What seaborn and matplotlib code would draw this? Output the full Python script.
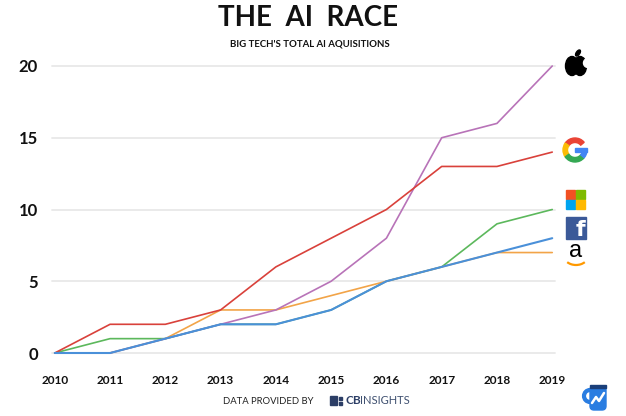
import numpy as np
import pandas as pd
import matplotlib
matplotlib.use("Agg")
import matplotlib.pyplot as plt
import matplotlib.patches as mpatches
import seaborn as sns

# ── Data ──────────────────────────────────────────────────────────────────────
years     = [2010, 2011, 2012, 2013, 2014, 2015, 2016, 2017, 2018, 2019]
apple     = [0, 0, 1, 2, 3, 5, 8, 15, 16, 20]
google    = [0, 2, 2, 3, 6, 8, 10, 13, 13, 14]
microsoft = [0, 1, 1, 2, 2, 3, 5, 6, 9, 10]
facebook  = [0, 0, 1, 2, 2, 3, 5, 6, 7, 8]
amazon    = [0, 0, 1, 3, 3, 4, 5, 6, 7, 7]
y_ticks   = [0, 5, 10, 15, 20]

colors = {
    "Microsoft": "#5cb85c",
    "Amazon":    "#f2a448",
    "Apple":     "#b873b8",
    "Google":    "#d9413b",
    "Facebook":  "#4a90d9",
}
# later entries are drawn on top
draw_order = ["Microsoft", "Amazon", "Apple", "Google", "Facebook"]
widths = {"Facebook": 1.5}

series = {"Apple": apple, "Google": google, "Microsoft": microsoft,
          "Facebook": facebook, "Amazon": amazon}
df = pd.concat(
    [pd.DataFrame({"year": years, "count": vals, "company": name})
     for name, vals in series.items()],
    ignore_index=True,
)

# ── Figure ────────────────────────────────────────────────────────────────────
sns.set_theme(style="white")
plt.rcParams["font.family"] = ["Lato", "DejaVu Sans"]

W, H = 626, 416
fig = plt.figure(figsize=(W / 100, H / 100), dpi=100)
fig.patch.set_facecolor("white")

ax = fig.add_axes([52 / W, 1 - 353 / H, (555 - 52) / W, (353 - 66) / H])
ax.set_facecolor("none")
for z, name in enumerate(draw_order):
    sns.lineplot(data=df[df["company"] == name], x="year", y="count",
                 color=colors[name], linewidth=widths.get(name, 1.2), ax=ax)
    ln = ax.get_lines()[-1]
    ln.set_zorder(10 + z)
    ln.set_clip_on(False)
    ln.set_solid_joinstyle("round")

ax.set_xlim(2009.95, 2019.05)
ax.set_ylim(0, 20)
ax.set_yticks(y_ticks)
ax.set_xticks(years)
ax.set_xticklabels([str(y) for y in years], fontsize=8.5, fontweight="bold")
ax.set_yticklabels([str(v) for v in y_ticks], fontsize=12, fontweight="bold")
ax.tick_params(axis="y", length=0, pad=10, colors="#111111")
ax.tick_params(axis="x", length=0, pad=16, colors="#111111")
ax.grid(axis="y", color="#e8e8e8", linewidth=1.3)
for line in ax.get_ygridlines():
    line.set_clip_on(False)
    line.set_zorder(1)
ax.set_axisbelow(True)
ax.set_xlabel("")
ax.set_ylabel("")
sns.despine(ax=ax, left=True, bottom=True)

# ── Titles / footer ───────────────────────────────────────────────────────────
fig.text(308 / W, 1 - 18 / H, "THE  AI  RACE", ha="center", va="center",
         fontsize=20, fontweight="bold", color="#111111")
fig.text(310 / W, 1 - 44 / H, "BIG TECH'S TOTAL AI AQUISITIONS", ha="center",
         va="center", fontsize=6.9, fontweight="bold", color="#111111")
fig.text(268 / W, 1 - 401 / H, "DATA PROVIDED BY", ha="center", va="center",
         fontsize=6.8, color="#222222")

# ── Logo overlay in pixel coordinates ─────────────────────────────────────────
ov = fig.add_axes([0, 0, 1, 1])
ov.set_xlim(0, W)
ov.set_ylim(0, H)
ov.axis("off")
ov.set_facecolor("none")


def Y(y):
    return H - y


# Apple
ov.add_patch(mpatches.Ellipse((572, Y(66)), 13, 19, color="black"))
ov.add_patch(mpatches.Ellipse((580, Y(66)), 13, 19, color="black"))
ov.add_patch(mpatches.Circle((588, Y(63)), 4.5, color="white"))
ov.add_patch(mpatches.Ellipse((578, Y(53)), 3.5, 7, angle=-35, color="black"))

# Google G
gx, gy, gr, gw = 575, Y(150), 12, 4.5
for t1, t2, c in [(40, 145, "#ea4335"), (145, 215, "#fbbc05"),
                  (215, 320, "#34a853"), (320, 360, "#4285f4")]:
    ov.add_patch(mpatches.Wedge((gx, gy), gr, t1, t2, width=gw, color=c))
ov.add_patch(mpatches.Rectangle((gx, gy - gw / 2), gr - 0.3, gw, color="#4285f4"))

# Microsoft
for (dx, dy), c in zip([(0, 0), (10, 0), (0, 10), (10, 10)],
                       ["#f25022", "#7fba00", "#00a4ef", "#ffb900"]):
    ov.add_patch(mpatches.Rectangle((566 + dx, Y(199 + dy)), 9, 9, color=c))

# Facebook
ov.add_patch(mpatches.Rectangle((566, Y(239)), 20, 22, color="#3b5998"))
ov.text(580, Y(240), "f", ha="center", va="bottom", fontsize=16,
        fontweight="bold", color="white", family="DejaVu Sans")

# Amazon
ov.text(576, Y(262), "a", ha="center", va="bottom", fontsize=17,
        color="black", family="Liberation Sans")
ov.add_patch(mpatches.Arc((576, Y(256)), 24, 18, theta1=215, theta2=325,
                          color="#ff9900", linewidth=1.6))

# CB Insights
ov.add_patch(mpatches.Rectangle((330, Y(405)), 7, 9, color="#2c3e66"))
ov.add_patch(mpatches.Rectangle((339, Y(400)), 3, 3, color="#2c3e66"))
ov.add_patch(mpatches.Rectangle((339, Y(405)), 3, 3, color="#2c3e66"))
ov.text(345, Y(401), "CB", ha="left", va="center", fontsize=8.5,
        fontweight="bold", color="#2c3e66")
ov.text(360, Y(401), "INSIGHTS", ha="left", va="center", fontsize=8,
        color="#3f5070")

# Mug icon
ov.add_patch(mpatches.Circle((590, Y(396)), 6, fill=False,
                             edgecolor="#2a7de1", linewidth=3))
ov.add_patch(mpatches.FancyBboxPatch((590, Y(410)), 16, 24,
                                     boxstyle="round,pad=0,rounding_size=4",
                                     color="#2a7de1"))
ov.add_patch(mpatches.Rectangle((590, Y(388)), 16, 3, color="#1a3f7a"))
ov.plot([592, 596, 599, 604], [Y(403), Y(397), Y(401), Y(393)],
        color="white", linewidth=1.8)

fig.savefig("out.png", dpi=100, facecolor="white")
